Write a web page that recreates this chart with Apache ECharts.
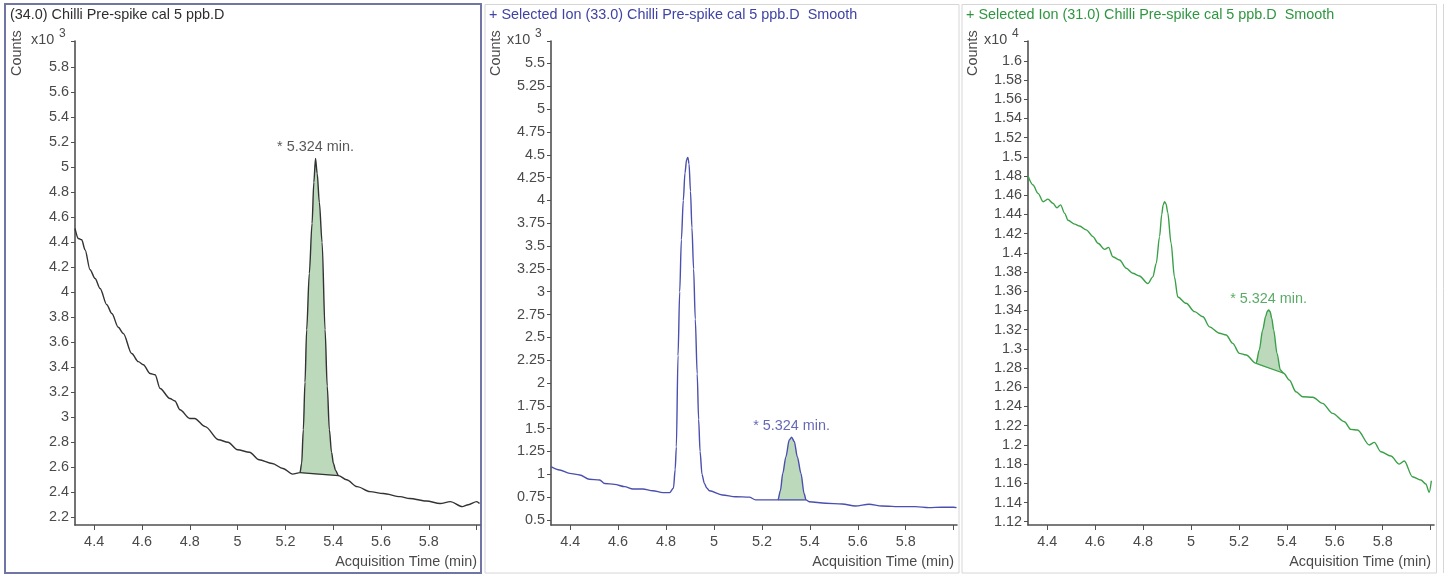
<!DOCTYPE html>
<html>
<head>
<meta charset="utf-8">
<script src="https://cdn.jsdelivr.net/npm/echarts@6/dist/echarts.min.js"></script>
<style>
html,body{margin:0;padding:0;background:#fff;}
#c{width:1447px;height:575px;}
</style>
</head>
<body>
<div id="c"></div>
<script>
// ---------- DATA ----------
// Panel 1: (34.0) Chilli Pre-spike cal 5 ppb.D  (Counts x10^3)
const p1Time = [4.320,4.334,4.348,4.362,4.383,4.404,4.425,4.453,4.474,4.501,4.522,4.557,4.585,4.606,4.634,4.655,4.676,4.717,4.738,4.759,4.800,4.820,4.865,4.920,4.960,5.000,5.050,5.090,5.145,5.190,5.230,5.261,5.268,5.275,5.282,5.289,5.300,5.3115,5.319,5.326,5.333,5.342,5.3535,5.366,5.375,5.384,5.393,5.401,5.410,5.422,5.456,5.500,5.554,5.610,5.680,5.720,5.790,5.847,5.890,5.940,5.965,6.000,6.012];
const p1Value = [4.51,4.43,4.42,4.34,4.18,4.11,4.03,3.90,3.83,3.72,3.67,3.51,3.445,3.42,3.35,3.34,3.23,3.15,3.13,3.06,2.99,2.99,2.925,2.82,2.80,2.74,2.72,2.66,2.63,2.59,2.545,2.557,2.63,2.90,3.28,3.70,4.15,4.55,4.88,5.07,4.95,4.72,4.40,3.70,3.25,2.90,2.72,2.63,2.575,2.533,2.50,2.445,2.405,2.39,2.365,2.35,2.33,2.31,2.325,2.285,2.30,2.325,2.31];
const p1BaseTime = [5.261, 5.422];
const p1BaseValue = [2.557, 2.533];
const p1Peak = [5.326, 5.07];

// Panel 2: + Selected Ion (33.0) ... Smooth  (Counts x10^3)
const p2Time = [4.320,4.356,4.398,4.440,4.480,4.523,4.544,4.585,4.627,4.662,4.703,4.745,4.787,4.815,4.831,4.838,4.843,4.850,4.857,4.864,4.872,4.879,4.886,4.891,4.896,4.902,4.908,4.915,4.922,4.930,4.936,4.942,4.950,4.960,4.970,4.981,5.035,5.090,5.147,5.174,5.230,5.267,5.277,5.287,5.300,5.314,5.324,5.335,5.348,5.363,5.376,5.384,5.397,5.466,5.535,5.590,5.647,5.700,5.785,5.840,5.897,5.950,6.000,6.012];
const p2Value = [1.084,1.048,1.010,0.993,0.946,0.938,0.900,0.890,0.865,0.840,0.840,0.820,0.800,0.800,0.850,1.050,1.300,2.300,3.000,3.570,4.000,4.300,4.450,4.470,4.400,4.100,3.700,3.250,2.700,2.100,1.600,1.250,1.000,0.900,0.850,0.820,0.774,0.755,0.750,0.720,0.720,0.720,0.820,1.010,1.190,1.376,1.406,1.360,1.190,1.010,0.790,0.720,0.700,0.683,0.675,0.653,0.672,0.653,0.646,0.646,0.635,0.640,0.640,0.635];
const p2BaseTime = [5.267, 5.384];
const p2BaseValue = [0.720, 0.720];
const p2Peak = [5.324, 1.406];

// Panel 3: + Selected Ion (31.0) ... Smooth  (Counts x10^4)
const p3Time = [4.320,4.341,4.362,4.383,4.403,4.424,4.441,4.456,4.473,4.487,4.515,4.535,4.563,4.591,4.612,4.640,4.656,4.674,4.702,4.730,4.757,4.785,4.820,4.841,4.855,4.869,4.878,4.884,4.890,4.896,4.903,4.917,4.931,4.945,4.980,5.015,5.050,5.077,5.119,5.147,5.174,5.202,5.230,5.272,5.285,5.299,5.312,5.318,5.324,5.330,5.337,5.345,5.359,5.373,5.387,5.410,5.438,5.466,5.508,5.549,5.591,5.640,5.667,5.695,5.744,5.765,5.792,5.834,5.869,5.890,5.924,5.959,5.980,5.994,6.003];
const p3Value = [1.480,1.4707,1.462,1.4533,1.456,1.4517,1.447,1.450,1.4412,1.434,1.430,1.428,1.424,1.417,1.410,1.4037,1.4058,1.396,1.3926,1.384,1.3788,1.376,1.368,1.375,1.389,1.417,1.440,1.450,1.4533,1.451,1.4420,1.410,1.375,1.354,1.3475,1.3388,1.3335,1.323,1.3163,1.3145,1.3058,1.2954,1.2936,1.285,1.2989,1.3197,1.334,1.3390,1.3405,1.3390,1.332,1.3197,1.2954,1.278,1.2746,1.2676,1.2554,1.2502,1.2496,1.2433,1.2329,1.2242,1.2162,1.2155,1.200,1.2027,1.1929,1.1884,1.180,1.1832,1.1669,1.1634,1.1593,1.1506,1.1627];
const p3BaseTime = [5.272, 5.387];
const p3BaseValue = [1.285, 1.2746];
const p3Peak = [5.324, 1.3405];

// Tick labels
const xLabels = [4.4,4.6,4.8,5,5.2,5.4,5.6,5.8];
const xTicks = [4.4,4.6,4.8,5,5.2,5.4,5.6,5.8,6.0];
const y1Labels = [2.2,2.4,2.6,2.8,3,3.2,3.4,3.6,3.8,4,4.2,4.4,4.6,4.8,5,5.2,5.4,5.6,5.8];
const y2Labels = [0.5,0.75,1,1.25,1.5,1.75,2,2.25,2.5,2.75,3,3.25,3.5,3.75,4,4.25,4.5,4.75,5,5.25,5.5];
const y3Labels = [1.12,1.14,1.16,1.18,1.2,1.22,1.24,1.26,1.28,1.3,1.32,1.34,1.36,1.38,1.4,1.42,1.44,1.46,1.48,1.5,1.52,1.54,1.56,1.58,1.6];

const titles = ['(34.0) Chilli Pre-spike cal 5 ppb.D',
                '+ Selected Ion (33.0) Chilli Pre-spike cal 5 ppb.D  Smooth',
                '+ Selected Ion (31.0) Chilli Pre-spike cal 5 ppb.D  Smooth'];
const exponents = ['3','3','4'];
const peakLabel = '* 5.324 min.';
const xName = 'Acquisition Time (min)';
const yName = 'Counts';

// ---------- LAYOUT / STYLE ----------
const FONT = 'Liberation Sans';
const FS = 14.4;
const panels = [
  {time:p1Time, value:p1Value, bt:p1BaseTime, bv:p1BaseValue, peak:p1Peak, yl:y1Labels, ymin:2.138, ymax:6.01,
   color:'#333333', tcolor:'#2e2e2e', left:75, right:480, px0:5},
  {time:p2Time, value:p2Value, bt:p2BaseTime, bv:p2BaseValue, peak:p2Peak, yl:y2Labels, ymin:0.445, ymax:5.746,
   color:'#4b4fae', tcolor:'#3f43a3', left:551, right:957, px0:484},
  {time:p3Time, value:p3Value, bt:p3BaseTime, bv:p3BaseValue, peak:p3Peak, yl:y3Labels, ymin:1.1166, ymax:1.6207,
   color:'#3aa048', tcolor:'#2f9640', left:1028, right:1434, px0:961}
];
const TOP = 41, BOTTOM = 525, W = 1447, H = 575;
const axisColor = '#505050', labelColor = '#4a4a4a';
const font = sz => sz + 'px "' + FONT + '"';

const grids = [], xAxes = [], yAxes = [], series = [], graphics = [];
panels.forEach((p, i) => {
  grids.push({left:p.left, width:p.right - p.left, top:TOP, height:BOTTOM - TOP, containLabel:false});
  xAxes.push({
    type:'value', gridIndex:i, min:4.32, max:6.014,
    axisLine:{show:true, onZero:false, lineStyle:{color:axisColor, width:1.6}},
    axisTick:{show:true, customValues:xTicks, length:5, lineStyle:{color:axisColor, width:1}},
    axisLabel:{customValues:xLabels, color:labelColor, fontSize:FS, fontFamily:FONT, margin:10, formatter:v => String(v)},
    splitLine:{show:false}
  });
  yAxes.push({
    type:'value', gridIndex:i, min:p.ymin, max:p.ymax,
    axisLine:{show:true, onZero:false, lineStyle:{color:axisColor, width:1.6}},
    axisTick:{show:true, customValues:p.yl.concat([p.ymax]), length:4, lineStyle:{color:axisColor, width:1}},
    axisLabel:{customValues:p.yl, color:labelColor, fontSize:FS, fontFamily:FONT, margin:6, formatter:v => String(v)},
    splitLine:{show:false}
  });
  const trace = p.time.map((t, k) => [t, p.value[k]]);
  // fill polygon between peak and its baseline
  const poly = [[p.bt[0], p.bv[0]]]
    .concat(trace.filter(d => d[0] > p.bt[0] && d[0] < p.bt[1]))
    .concat([[p.bt[1], p.bv[1]]]);
  series.push({
    type:'custom', xAxisIndex:i, yAxisIndex:i, silent:true, z:1,
    data:[[p.peak[0], p.peak[1]]],
    renderItem:(params, api) => ({
      type:'polygon', shape:{points:poly.map(d => api.coord(d)), smooth:0.15},
      style:{fill:'#bcd9bc', stroke:null}
    })
  });
  series.push({
    type:'line', xAxisIndex:i, yAxisIndex:i, z:3, silent:true,
    data:[[p.bt[0], p.bv[0]], [p.bt[1], p.bv[1]]],
    showSymbol:false, lineStyle:{color:p.color, width:1.2}
  });
  series.push({
    type:'line', xAxisIndex:i, yAxisIndex:i, z:4, silent:true,
    data:trace, showSymbol:false, smooth:0.3, smoothMonotone:'x',
    lineStyle:{color:p.color, width:1.4}, clip:true
  });
  series.push({
    type:'scatter', xAxisIndex:i, yAxisIndex:i, z:5, silent:true,
    data:[p.peak], symbolSize:0,
    label:{show:true, position:'top', distance:4, formatter:peakLabel, color:p.tcolor, fontSize:FS, fontFamily:FONT}
  });

  // texts
  graphics.push({type:'text', left:p.px0 + 5, top:8, style:{text:titles[i], fill:p.tcolor, font:font(FS)}});
  graphics.push({type:'text', x:p.px0 + 12, y:76, rotation:Math.PI/2,
    style:{text:yName, fill:'#4a4a4a', font:font(FS), textAlign:'left', textVerticalAlign:'middle'}});
  graphics.push({type:'text', x:p.left - 44, y:40, style:{text:'x10', fill:labelColor, font:font(FS), textVerticalAlign:'middle'}});
  graphics.push({type:'text', x:p.left - 16, y:34, style:{text:exponents[i], fill:labelColor, font:font(12), textVerticalAlign:'middle'}});
  graphics.push({type:'text', x:p.right - 3, y:562, style:{text:xName, fill:'#4a4a4a', font:font(FS), textAlign:'right', textVerticalAlign:'middle'}});
});

// panel frames
graphics.push({type:'rect', shape:{x:485, y:4.5, width:474, height:568.5}, style:{fill:null, stroke:'#d6d6d6', lineWidth:1}, z:-1});
graphics.push({type:'rect', shape:{x:962, y:4.5, width:474.5, height:568.5}, style:{fill:null, stroke:'#d6d6d6', lineWidth:1}, z:-1});
graphics.push({type:'line', shape:{x1:1443.5, y1:4, x2:1443.5, y2:573}, style:{stroke:'#d6d6d6', lineWidth:1}, z:-1});
graphics.push({type:'rect', shape:{x:5, y:4, width:476, height:569}, style:{fill:null, stroke:'#7175a3', lineWidth:2}, z:-1});

const chart = echarts.init(document.getElementById('c'), null, {renderer:'canvas', width:W, height:H});
chart.setOption({
  animation:false,
  backgroundColor:'#ffffff',
  grid:grids, xAxis:xAxes, yAxis:yAxes, series:series, graphic:graphics
});
</script>
</body>
</html>
